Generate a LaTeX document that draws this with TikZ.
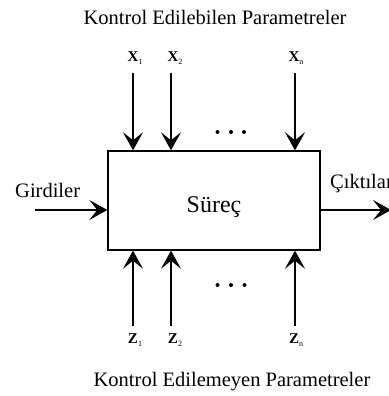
\documentclass[tikz,border=0pt]{standalone}
\usepackage{fontspec}
\setmainfont{Liberation Serif}
\usetikzlibrary{arrows.meta,calc}
\tikzset{
  arr/.style={-{Stealth[length=18pt,width=20pt,inset=8pt]}, line width=1.2pt},
  lbl/.style={font=\fontsize{20.5}{22}\selectfont, inner sep=0pt},
  par/.style={font=\fontsize{15}{16}\selectfont\bfseries, inner sep=0pt},
  dotc/.style={fill=black, circle, inner sep=0pt, minimum size=4pt},
}
\newcommand{\subx}[1]{\raisebox{-0.35ex}{\fontsize{8}{8}\selectfont\mdseries #1}}
\begin{document}
\begin{tikzpicture}[x=1pt,y=-1pt]
\useasboundingbox (0,0) rectangle (388,396);
% titles
\node[lbl] (ttop) at (215,17) {Kontrol Edilebilen Parametreler};
\node[lbl] (tbot) at (232,382) {Kontrol Edilemeyen Parametreler};
% box
\node[draw, line width=1.4pt, minimum width=212pt, minimum height=99pt, inner sep=0pt] (box) at (214,200.5) {};
\node[font=\fontsize{24}{26}\selectfont, inner sep=0pt] (sur) at (214,207) {Süreç};
% top labels
\node[par] (X1) at (135,58) {X\subx{1}};
\node[par] (X2) at (175,58) {X\subx{2}};
\node[par] (Xn) at (296,58) {X\subx{n}};
\coordinate (x1s) at (133,73);
\coordinate (x2s) at (171,73);
\coordinate (xns) at (295,73);
\draw[arr] (x1s) -- (x1s |- box.north);
\draw[arr] (x2s) -- (x2s |- box.north);
\draw[arr] (xns) -- (xns |- box.north);
% bottom labels
\node[par] (Z1) at (135,340) {Z\subx{1}};
\node[par] (Z2) at (175,340) {Z\subx{2}};
\node[par] (Zn) at (296,340) {Z\subx{n}};
\coordinate (z1s) at (133,326);
\coordinate (z2s) at (171,326);
\coordinate (zns) at (295,326);
\draw[arr] (z1s) -- (z1s |- box.south);
\draw[arr] (z2s) -- (z2s |- box.south);
\draw[arr] (zns) -- (zns |- box.south);
% dots
\node[dotc] (d1) at (217.5,132) {};
\node[dotc] (d2) at (231,132) {};
\node[dotc] (d3) at (244,132) {};
\node[dotc] (e1) at (217.5,285) {};
\node[dotc] (e2) at (231,285) {};
\node[dotc] (e3) at (244.5,285) {};
% input / output
\node[lbl, anchor=west] (gir) at (15,190) {Girdiler};
\node[lbl, anchor=west] (cik) at (330,184) {Çıktılar};
\coordinate (ins) at (35,210);
\coordinate (oute) at (391,210);
\draw[arr] (ins) -- (ins -| box.west);
\draw[arr] (oute -| box.east) -- (oute);
\end{tikzpicture}
\end{document}
